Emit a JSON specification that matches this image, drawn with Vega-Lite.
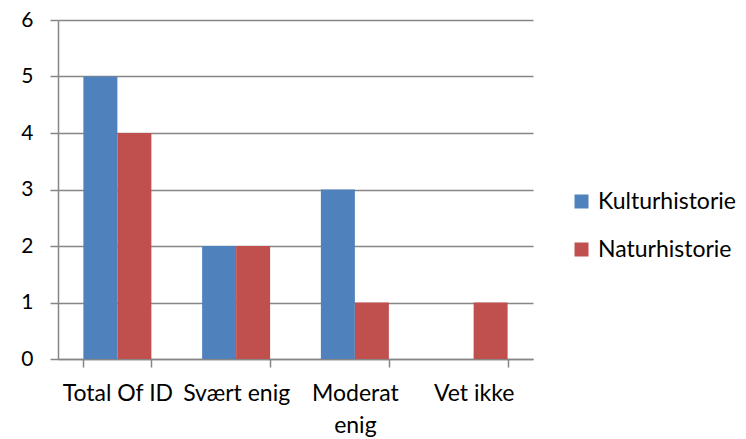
{
  "$schema": "https://vega.github.io/schema/vega-lite/v6.json",
  "width": 475,
  "height": 339,
  "autosize": "none",
  "padding": {"left": 58, "top": 20, "right": 213, "bottom": 80},
  "background": "white",
  "config": {
    "view": {"stroke": null},
    "font": "Lato",
    "axis": {"labelFont": "Lato", "labelColor": "#000000", "domainColor": "#868686", "tickColor": "#868686", "gridColor": "#868686", "title": null}
  },
  "data": {
    "values": [
      {"category": "Total Of ID", "series": "Kulturhistorie", "value": 5},
      {"category": "Total Of ID", "series": "Naturhistorie", "value": 4},
      {"category": "Svært enig", "series": "Kulturhistorie", "value": 2},
      {"category": "Svært enig", "series": "Naturhistorie", "value": 2},
      {"category": "Moderat enig", "series": "Kulturhistorie", "value": 3},
      {"category": "Moderat enig", "series": "Naturhistorie", "value": 1},
      {"category": "Vet ikke", "series": "Kulturhistorie", "value": 0},
      {"category": "Vet ikke", "series": "Naturhistorie", "value": 1}
    ]
  },
  "mark": {"type": "bar"},
  "encoding": {
    "x": {
      "field": "category",
      "type": "nominal",
      "sort": ["Total Of ID", "Svært enig", "Moderat enig", "Vet ikke"],
      "scale": {"paddingInner": 0.4274, "paddingOuter": 0.2137},
      "axis": {
        "labelAngle": 0,
        "labelFontSize": 23,
        "tickBand": "extent",
        "tickSize": 8,
        "tickWidth": 1.5,
        "labelPadding": 15,
        "labelLineHeight": 32,
        "labelLimit": 200,
        "labelBaseline": "top",
        "domainWidth": 1.5,
        "labelExpr": "datum.value == 'Moderat enig' ? ['Moderat', 'enig'] : datum.value"
      }
    },
    "xOffset": {"field": "series", "type": "nominal", "sort": ["Kulturhistorie", "Naturhistorie"]},
    "y": {
      "field": "value",
      "type": "quantitative",
      "scale": {"domain": [0, 6], "nice": false},
      "axis": {
        "values": [0, 1, 2, 3, 4, 5, 6],
        "labelFontSize": 21,
        "tickSize": 8,
        "labelPadding": 17,
        "grid": true,
        "gridWidth": 1.5,
        "domainWidth": 1.5,
        "tickWidth": 1.5
      }
    },
    "color": {
      "field": "series",
      "type": "nominal",
      "scale": {"domain": ["Kulturhistorie", "Naturhistorie"], "range": ["#4F81BD", "#C0504D"]},
      "legend": {
        "title": null,
        "orient": "none",
        "legendX": 512,
        "legendY": 170,
        "symbolType": "square",
        "symbolSize": 196,
        "symbolStrokeWidth": 0,
        "labelFont": "Lato",
        "labelFontSize": 23,
        "labelColor": "#000000",
        "labelOffset": 5,
        "rowPadding": 24,
        "labelLimit": 200,
        "padding": 0
      }
    }
  }
}
